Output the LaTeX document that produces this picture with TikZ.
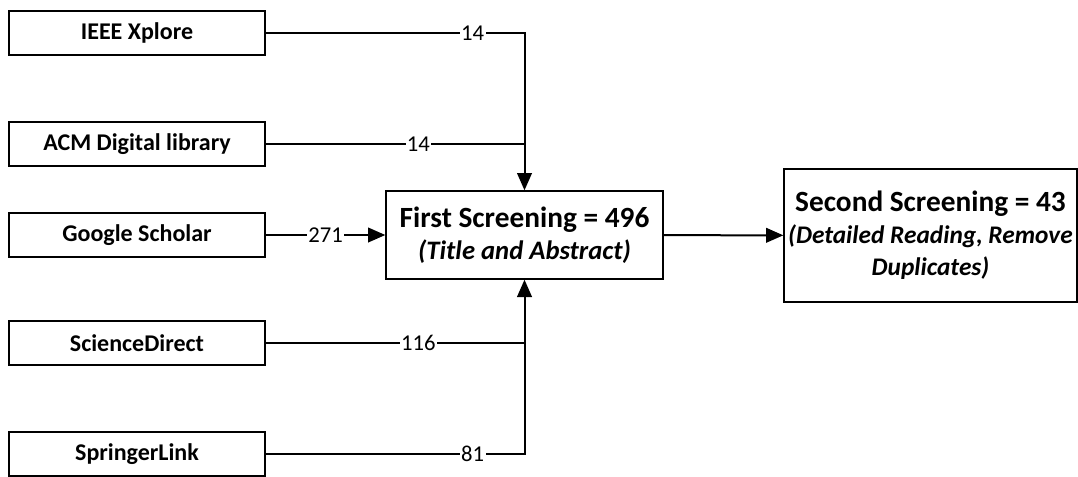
\documentclass[tikz,border=0pt]{standalone}
\usepackage{fontspec}
\setmainfont{Carlito}
\usetikzlibrary{arrows.meta}

\newcommand\headfont{\fontsize{22}{24}\selectfont\bfseries}
\newcommand\notefont{\fontsize{19}{23}\selectfont\bfseries\itshape}

\begin{document}
\begin{tikzpicture}[x=0.75pt,y=-0.75pt,
    srcbox/.style={draw,line width=1pt,minimum width=192pt,minimum height=33pt,inner sep=0pt,font=\fontsize{18}{21}\selectfont\bfseries},
    screenbox/.style={draw,line width=1pt,inner sep=0pt,align=center,font=\headfont},
    link/.style={line width=1.5pt},
    arr/.style={link,-{Triangle[length=13pt,width=11pt]}},
    cnt/.style={fill=white,inner sep=1pt,font=\fontsize{17}{20}\selectfont}]
    \useasboundingbox (0,0) rectangle (1078,476);
    % databases
    \node[srcbox] (ieee) at (137,33) {IEEE Xplore};
    \node[srcbox] (acm) at (137,144) {ACM Digital library};
    \node[srcbox] (scholar) at (137,235) {Google Scholar};
    \node[srcbox] (sdirect) at (137,343) {ScienceDirect};
    \node[srcbox] (springer) at (137,454) {SpringerLink};
    % screening steps
    \node[screenbox,minimum width=207.75pt,minimum height=66pt] (first) at (524.5,235)
        {First Screening = 496\\{\notefont\fontsize{20}{23}\selectfont (Title and Abstract)}};
    \node[screenbox,minimum width=219.75pt,minimum height=99.75pt] (second) at (930.5,235.5)
        {Second Screening = 43\\{\notefont (Detailed Reading, Remove}\\{\notefont Duplicates)}};
    % counts
    \draw[arr] (ieee) -| node[cnt,pos=.4]{14} (first);
    \draw[link] (acm) -- node[cnt,pos=.59]{14} (acm -| first);
    \draw[arr] (scholar) -- node[cnt]{271} (first);
    \draw[link] (sdirect) -- node[cnt,pos=.59]{116} (sdirect -| first);
    \draw[arr] (springer) -| node[cnt,pos=.4]{81} (first);
    \draw[arr] (first) -- (second);
\end{tikzpicture}
\end{document}
